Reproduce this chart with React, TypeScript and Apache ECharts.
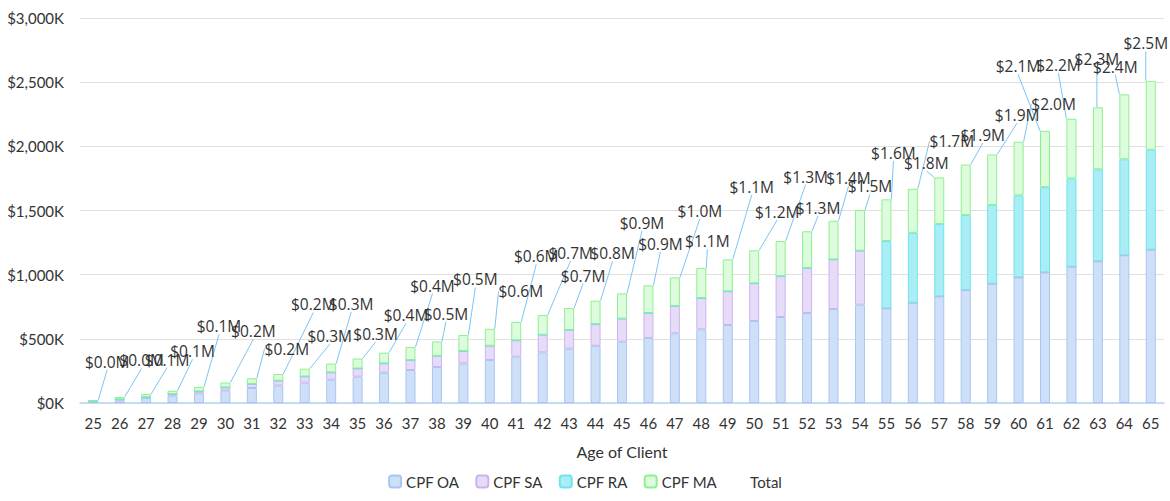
import React, { useEffect, useRef } from "react";
import * as echarts from "echarts";

// ages on the x axis
const ages = [
  "25", "26", "27", "28", "29", "30", "31", "32", "33", "34", "35", "36", "37", "38",
  "39", "40", "41", "42", "43", "44", "45", "46", "47", "48", "49", "50", "51", "52",
  "53", "54", "55", "56", "57", "58", "59", "60", "61", "62", "63", "64", "65",
];

// balances in $K
const cpfOA = [
  11, 21, 39, 57, 75, 98, 117, 136, 159, 182, 205, 236, 257, 280, 309, 335, 361, 394,
  423, 446, 478, 506, 543, 574, 608, 639, 670, 701, 732, 766, 737, 781, 831, 880, 929,
  979, 1018, 1062, 1104, 1151, 1194,
];
const cpfSA = [
  4, 8, 8, 13, 16, 24, 31, 38, 48, 57, 64, 73, 78, 88, 96, 111, 128, 138, 146, 169, 179,
  195, 213, 244, 262, 294, 319, 351, 387, 421, 0, 0, 0, 0, 0, 0, 0, 0, 0, 0, 0,
];
const cpfRA = [
  0, 0, 0, 0, 0, 0, 0, 0, 0, 0, 0, 0, 0, 0, 0, 0, 0, 0, 0, 0, 0, 0, 0, 0, 0, 0, 0, 0,
  0, 0, 525, 545, 563, 584, 613, 639, 664, 688, 717, 748, 779,
];
const cpfMA = [
  7, 18, 23, 25, 34, 38, 45, 52, 60, 68, 78, 83, 101, 112, 125, 132, 143, 153, 171, 182,
  197, 216, 223, 235, 249, 257, 273, 286, 301, 317, 325, 343, 364, 394, 395, 418, 439,
  465, 483, 506, 537,
];

const yTicks = { min: 0, max: 3000, interval: 500 };

// where each total label sits, relative to the top of its bar [dx, dy]
const labelNudges = [
  [14, -38], [22, -36], [21, -34], [20, -39], [20, -60], [28, -51], [35, -29], [35, -69],
  [25, -32], [20, -59], [18, -24], [22, -37], [22, -61], [9, -27], [12, -55], [31, -37],
  [20, -65], [28, -62], [14, -32], [17, -47], [20, -70], [12, -41], [25, -66], [6, -26],
  [24, -72], [23, -38], [25, -64], [11, -23], [15, -42], [10, -23], [7, -46], [39, -47],
  [-13, -14], [17, -29], [25, -39], [35, -37], [-27, -64], [-13, -53], [-1, -48],
  [-9, -27], [-5, -37],
];

const totals = ages.map((_, i) => cpfOA[i] + cpfSA[i] + cpfRA[i] + cpfMA[i]);

const axisFont = "Lato, 'Open Sans', sans-serif";

export default function App() {
  const chartRef = useRef<HTMLDivElement>(null);

  useEffect(() => {
    if (!chartRef.current) return;
    const chart = echarts.init(chartRef.current, undefined, { renderer: "svg" });

    const part = (name: string, data: number[], fill: string, border: string) => ({
      name,
      type: "bar" as const,
      stack: "cpf",
      barWidth: 10,
      data,
      itemStyle: { color: fill, borderColor: border, borderWidth: 1 },
    });

    chart.setOption({
      animation: false,
      grid: { left: 80, right: 6, top: 18, bottom: 98 },
      legend: {
        bottom: 7,
        itemWidth: 12,
        itemHeight: 12,
        itemGap: 16,
        data: ["CPF OA", "CPF SA", "CPF RA", "CPF MA", "Total"],
        textStyle: { fontFamily: axisFont, fontSize: 15, color: "#333" },
      },
      xAxis: {
        type: "category",
        data: ages,
        name: "Age of Client",
        nameLocation: "middle",
        nameGap: 40,
        nameTextStyle: { fontFamily: axisFont, fontSize: 16, color: "#333" },
        axisTick: { show: false },
        axisLine: { lineStyle: { color: "#b5d6f5", width: 1.5 } },
        axisLabel: { fontFamily: axisFont, fontSize: 15, color: "#333", margin: 12 },
      },
      yAxis: {
        type: "value",
        ...yTicks,
        axisLine: { show: false },
        axisTick: { show: false },
        splitLine: { lineStyle: { color: "#e0e0e0", width: 1 } },
        axisLabel: {
          fontFamily: axisFont,
          fontSize: 15,
          color: "#333",
          margin: 16,
          formatter: (v: number) => "$" + v.toLocaleString("en-US") + "K",
        },
      },
      series: [
        part("CPF OA", cpfOA, "#cedff8", "#a9c5f1"),
        part("CPF SA", cpfSA, "#e7dcf8", "#ccb3ef"),
        part("CPF RA", cpfRA, "#aaeef5", "#6fe3ee"),
        part("CPF MA", cpfMA, "#ddfcdd", "#8ef08e"),
        {
          name: "Total",
          type: "bar",
          stack: "cpf",
          barWidth: 10,
          data: ages.map(() => 0),
          itemStyle: { color: "transparent", borderColor: "transparent" },
          label: {
            show: true,
            position: "top",
            fontFamily: "'Open Sans', 'Noto Sans', sans-serif",
            fontSize: 15.5,
            color: "#333",
            formatter: (p: any) => "$" + (totals[p.dataIndex] / 1000).toFixed(1) + "M",
          },
          labelLine: { show: true, lineStyle: { color: "#7cc4f4", width: 1 } },
          labelLayout: (p: any) => {
            const [dx, dy] = labelNudges[p.dataIndex];
            return {
              x: p.rect.x + p.rect.width / 2 + dx,
              y: p.rect.y + dy,
              align: "center",
              verticalAlign: "middle",
            };
          },
        },
      ],
    });

    return () => chart.dispose();
  }, []);

  return (
    <div
      ref={chartRef}
      style={{ position: "fixed", left: 0, top: 0, width: 1170, height: 501, background: "#fff" }}
    />
  );
}
